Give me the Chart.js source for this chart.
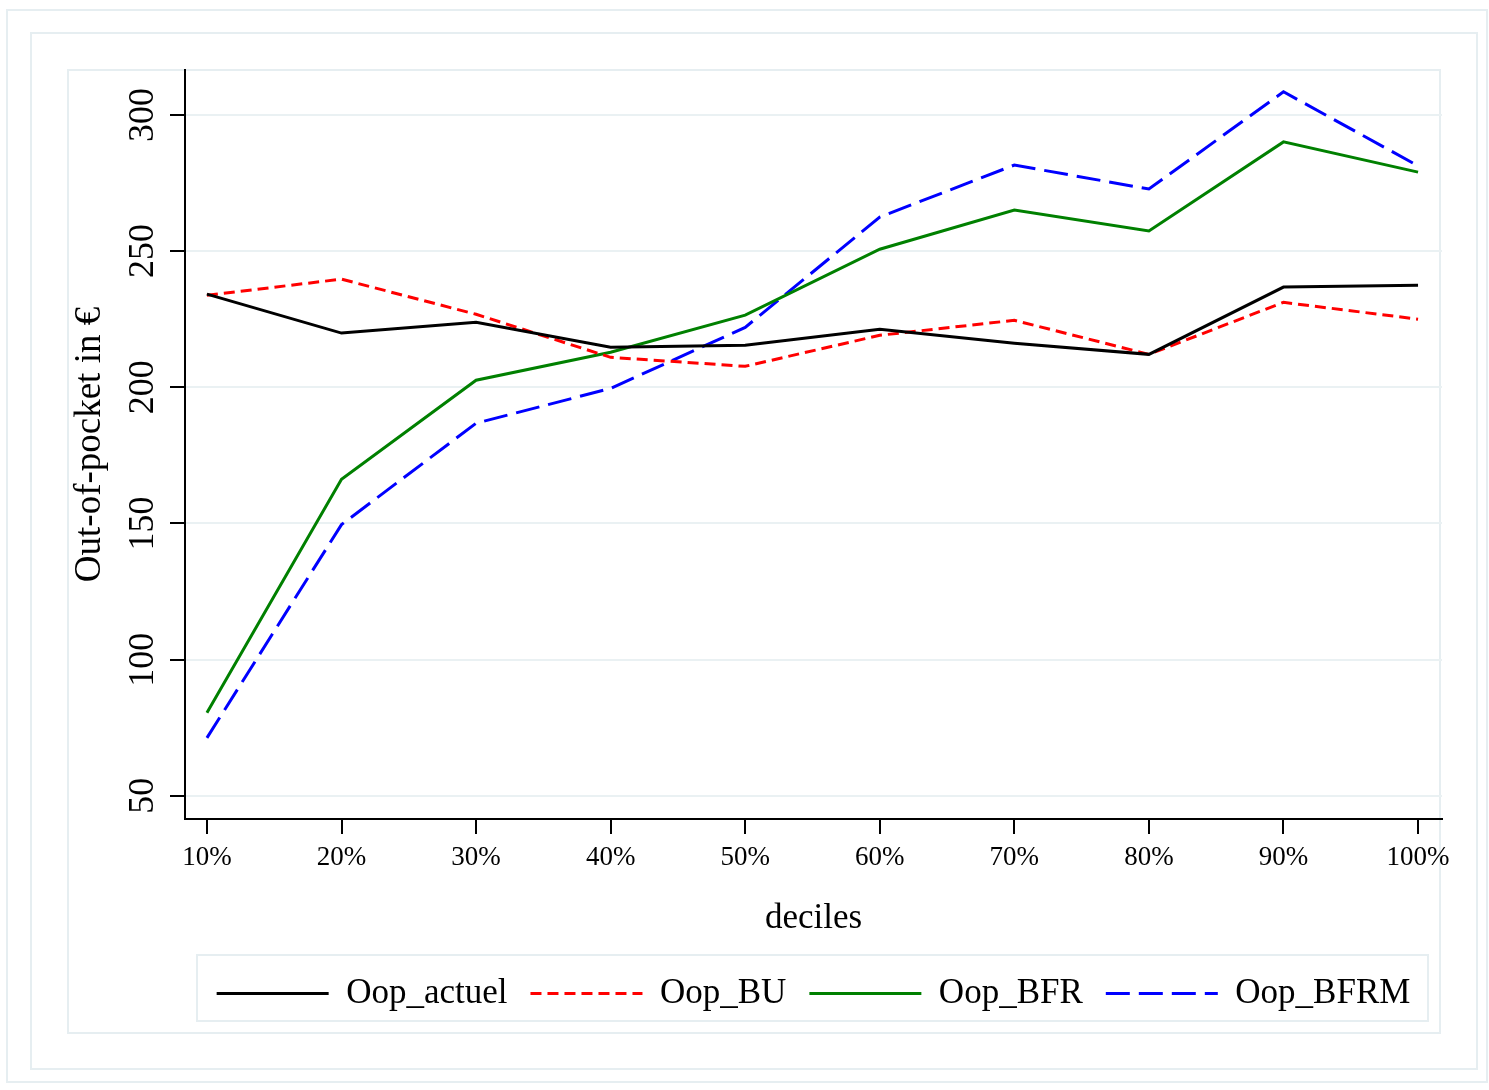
<!DOCTYPE html>
<html>
<head>
<meta charset="utf-8">
<script src="https://cdn.jsdelivr.net/npm/chart.js@4/dist/chart.umd.min.js"></script>
<style>
  html, body { margin: 0; padding: 0; background: #fff; }
  #wrap { width: 1489px; height: 1090px; }
</style>
</head>
<body>
<div id="wrap"><canvas id="chart" width="1489" height="1090"></canvas></div>
<script>
/* ── Datos ─────────────────────────────────── */
const deciles    = ['10%', '20%', '30%', '40%', '50%', '60%', '70%', '80%', '90%', '100%'];
const oopActuel  = [234.2, 219.9, 223.9, 214.7, 215.4, 221.3, 216.2, 212.1, 236.8, 237.5];
const oopBU      = [233.8, 239.7, 226.8, 211.0, 207.7, 219.1, 224.6, 212.1, 231.2, 225.0];
const oopBFR     = [80.5, 166.2, 202.6, 212.9, 226.5, 250.7, 265.1, 257.4, 290.1, 279.0];
const oopBFRM    = [71.3, 149.6, 186.8, 199.6, 222.0, 262.5, 281.6, 272.8, 308.5, 281.3];
const yTicks     = [50, 100, 150, 200, 250, 300];

const SERIF = "'Liberation Serif', 'Times New Roman', serif";
const FRAME = '#e6eef1';

const pts = arr => arr.map((v, i) => ({ x: i + 1, y: v }));

/* ── Marcos estilo Stata ───────────────────── */
const framePlugin = {
  id: 'frames',
  beforeDraw(chart) {
    const ctx = chart.ctx;
    ctx.save();
    ctx.strokeStyle = FRAME;
    ctx.lineWidth = 2;
    ctx.strokeRect(7, 10, 1480, 1072);
    ctx.strokeRect(31, 33, 1446, 1036);
    ctx.strokeRect(68, 70, 1372, 963);
    ctx.strokeRect(197, 955, 1231, 66);
    ctx.restore();
  }
};

new Chart(document.getElementById('chart'), {
  type: 'line',
  data: {
    datasets: [
      { label: 'Oop_actuel', data: pts(oopActuel), borderColor: '#000000', backgroundColor: '#000000', borderWidth: 3 },
      { label: 'Oop_BU',     data: pts(oopBU),     borderColor: '#ff0000', backgroundColor: '#ff0000', borderWidth: 3, borderDash: [11, 6] },
      { label: 'Oop_BFR',    data: pts(oopBFR),    borderColor: '#008000', backgroundColor: '#008000', borderWidth: 3 },
      { label: 'Oop_BFRM',   data: pts(oopBFRM),   borderColor: '#0000ff', backgroundColor: '#0000ff', borderWidth: 3, borderDash: [24, 9] }
    ]
  },
  options: {
    responsive: false,
    animation: false,
    devicePixelRatio: 1,
    elements: { point: { radius: 0 }, line: { tension: 0 } },
    layout: { padding: { left: 68, top: 70, right: 47, bottom: 69 } },
    plugins: {
      tooltip: { enabled: false },
      legend: {
        position: 'bottom',
        fullSize: false,
        labels: {
          usePointStyle: true,
          pointStyle: 'line',
          pointStyleWidth: 112,
          padding: 23,
          color: '#000',
          font: { family: SERIF, size: 35 },
          generateLabels: chart =>
            Chart.defaults.plugins.legend.labels.generateLabels(chart).map(item => {
              const ds = chart.data.datasets[item.datasetIndex];
              item.lineDash = ds.borderDash || [];
              item.lineWidth = ds.borderWidth;
              item.strokeStyle = ds.borderColor;
              return item;
            })
        }
      }
    },
    scales: {
      x: {
        type: 'linear',
        min: 0.837,
        max: 10.178,
        afterBuildTicks: s => { s.ticks = deciles.map((_, i) => ({ value: i + 1 })); },
        afterFit: s => { s.height = 134; },
        border: { color: '#000', width: 2 },
        grid: { drawOnChartArea: false, drawTicks: true, tickLength: 15, color: '#000', lineWidth: 2 },
        ticks: {
          padding: 8,
          maxRotation: 0,
          autoSkip: false,
          color: '#000',
          font: { family: SERIF, size: 27 },
          callback: v => deciles[v - 1]
        },
        title: { display: true, text: 'deciles', color: '#000', font: { family: SERIF, size: 35 }, padding: { top: 0, bottom: 13 } }
      },
      y: {
        min: 41.5,
        max: 316.5,
        afterBuildTicks: s => { s.ticks = yTicks.map(v => ({ value: v })); },
        afterFit: s => { s.width = 117; },
        border: { color: '#000', width: 2 },
        grid: { color: '#eaf1f3', lineWidth: 2, tickLength: 15, tickColor: '#000', tickWidth: 2 },
        ticks: {
          minRotation: 90,
          maxRotation: 90,
          crossAlign: 'center',
          padding: -1,
          color: '#000',
          font: { family: SERIF, size: 36 }
        },
        title: { display: true, text: 'Out-of-pocket in €', color: '#000', font: { family: SERIF, size: 37 }, padding: 0 }
      }
    }
  },
  plugins: [framePlugin]
});
</script>
</body>
</html>
